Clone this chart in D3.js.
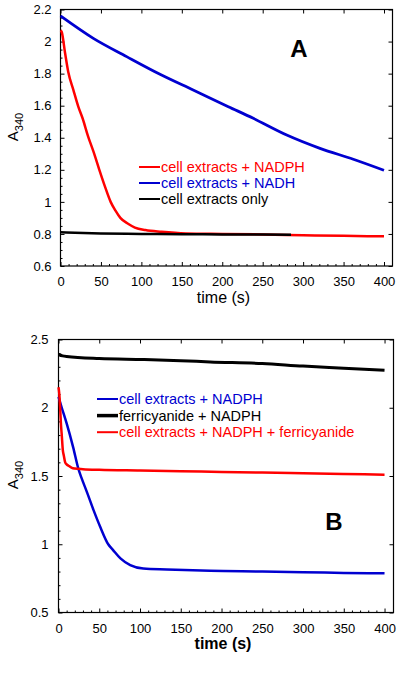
<!DOCTYPE html>
<html>
<head>
<meta charset="utf-8">
<script src="https://cdn.jsdelivr.net/npm/d3@7"></script>
<style>
  body { margin: 0; background: #fff; }
  svg text { font-family: "Liberation Sans", Arial, sans-serif; }
</style>
</head>
<body>
<div id="chart"></div>
<script>
// panel A: absorbance at 340 nm vs time
var timeA_nadph = [0, 1.5, 5.6, 9.6, 15.8, 22, 27.4, 34, 41, 48, 55, 62, 68, 74, 84, 92, 105, 125, 155, 200, 250, 300, 350, 400];
var absA_nadph  = [2.07, 2.06, 1.93, 1.81, 1.70, 1.594, 1.52, 1.41, 1.31, 1.20, 1.095, 1.0, 0.945, 0.90, 0.862, 0.84, 0.824, 0.813, 0.803, 0.80, 0.797, 0.792, 0.788, 0.785];
var timeA_nadh = [0, 40.6, 81.8, 123, 164, 207.5, 238.4, 279.7, 320.8, 362, 400];
var absA_nadh  = [2.16, 2.02, 1.906, 1.796, 1.698, 1.594, 1.521, 1.417, 1.334, 1.266, 1.197];
var timeA_only = [0, 50, 100, 150, 200, 250, 285];
var absA_only  = [0.81, 0.803, 0.80, 0.798, 0.797, 0.796, 0.795];

// panel B
var timeB_nadph = [0, 4, 10, 18, 24.5, 28, 35, 43, 51, 61, 67, 76, 88, 104, 133, 186, 250, 300, 350, 400];
var absB_nadph  = [2.08, 2.0, 1.885, 1.71, 1.55, 1.49, 1.38, 1.25, 1.13, 1.0, 0.957, 0.896, 0.847, 0.822, 0.815, 0.805, 0.80, 0.795, 0.79, 0.787];
var timeB_ferri = [0, 5, 10, 50, 104, 150, 186, 250, 300, 350, 400];
var absB_ferri  = [2.39, 2.38, 2.375, 2.36, 2.353, 2.345, 2.336, 2.324, 2.305, 2.29, 2.275];
var timeB_both = [0, 1, 2, 3, 4, 5.3, 6.5, 8.2, 10, 12.3, 16.4, 20, 30, 50, 100, 150, 200, 250, 300, 350, 400];
var absB_both  = [2.15, 2.1, 2.0, 1.88, 1.80, 1.69, 1.65, 1.60, 1.585, 1.575, 1.56, 1.555, 1.55, 1.545, 1.54, 1.535, 1.53, 1.525, 1.52, 1.515, 1.51];

var xTicks = [0, 50, 100, 150, 200, 250, 300, 350, 400];
var yTicksA = [0.6, 0.8, 1, 1.2, 1.4, 1.6, 1.8, 2, 2.2];
var yTicksB = [0.5, 1, 1.5, 2, 2.5];

var legendA = ["cell extracts + NADPH", "cell extracts + NADH", "cell extracts only"];
var legendB = ["cell extracts + NADPH", "ferricyanide + NADPH", "cell extracts + NADPH + ferricyanide"];

var RED = "#ff0000", BLUE = "#0000d0", BLACK = "#000000";

function zip(t, v) {
	return t.map((d, i) => ({ t: d, v: v[i] }));
}

var svg = d3.select("#chart").append("svg")
	.attr("width", 417).attr("height", 677);

function drawPanel(cfg) {
	const x = d3.scaleLinear().domain(cfg.xDomain).range([cfg.left, cfg.right]);
	const y = d3.scaleLinear().domain(cfg.yDomain).range([cfg.bottom, cfg.top]);
	const g = svg.append("g");

	// minor ticks
	const xMinor = d3.range(0, 401, 10).filter(v => v % 50 !== 0);
	const yMinor = d3.range(cfg.yDomain[0], cfg.yDomain[1] + 1e-9, cfg.yMinorStep)
		.filter(v => !cfg.yTicks.some(t => Math.abs(t - v) < 1e-6));

	g.append("g").attr("transform", `translate(0,${cfg.bottom})`)
		.call(d3.axisBottom(x).tickValues(xMinor).tickFormat("").tickSize(-2).tickSizeOuter(0));
	g.append("g").attr("transform", `translate(${cfg.left},0)`)
		.call(d3.axisLeft(y).tickValues(yMinor).tickFormat("").tickSize(-2).tickSizeOuter(0));

	// major ticks + labels
	g.append("g").attr("class", "ax").attr("transform", `translate(0,${cfg.bottom})`)
		.call(d3.axisBottom(x).tickValues(xTicks).tickSize(-4).tickSizeOuter(0).tickPadding(8))
		.selectAll("text").attr("dy", cfg.xdy);
	g.append("g").attr("class", "ax").attr("transform", `translate(${cfg.left},0)`)
		.call(d3.axisLeft(y).tickValues(cfg.yTicks).tickFormat(d3.format("")).tickSize(-4).tickSizeOuter(0).tickPadding(cfg.ypad));
	g.append("g").attr("transform", `translate(0,${cfg.top})`)
		.call(d3.axisTop(x).tickValues(xTicks).tickFormat("").tickSize(-4).tickSizeOuter(0));
	g.append("g").attr("transform", `translate(${cfg.right},0)`)
		.call(d3.axisRight(y).tickValues(cfg.yTicks).tickFormat("").tickSize(-4).tickSizeOuter(0));

	g.selectAll(".domain").remove();
	g.selectAll(".tick line").attr("stroke", "#000").attr("stroke-width", 1);
	g.selectAll(".ax text").attr("font-size", 13).attr("fill", "#000")
		.style("font-family", '"Liberation Sans", Arial, sans-serif');

	// frame
	g.append("rect")
		.attr("x", cfg.left).attr("y", cfg.top)
		.attr("width", cfg.right - cfg.left).attr("height", cfg.bottom - cfg.top)
		.attr("fill", "none").attr("stroke", "#000").attr("stroke-width", 1.2);

	// data lines
	const line = d3.line().x(d => x(d.t)).y(d => y(d.v)).curve(d3.curveMonotoneX);
	cfg.series.forEach(s => {
		g.append("path")
			.datum(zip(s.t, s.v))
			.attr("fill", "none")
			.attr("stroke", s.color)
			.attr("stroke-width", s.width)
			.attr("d", line);
	});

	// legend
	cfg.series.forEach((s, i) => {
		const ly = cfg.legY + i * cfg.legStep;
		g.append("line")
			.attr("x1", cfg.legX).attr("x2", cfg.legX + 21)
			.attr("y1", ly - 5).attr("y2", ly - 5)
			.attr("stroke", s.color).attr("stroke-width", s.legWidth);
		g.append("text")
			.attr("x", cfg.legX + 22).attr("y", ly)
			.attr("font-size", 14.5).attr("fill", s.color)
			.text(s.label);
	});

	// axis titles
	g.append("text")
		.attr("x", (cfg.left + cfg.right) / 2 - 3).attr("y", cfg.xLabelY)
		.attr("text-anchor", "middle").attr("font-size", 16)
		.attr("font-weight", cfg.boldX ? "bold" : "normal")
		.text("time (s)");

	const yl = g.append("text")
		.attr("transform", `translate(18,${cfg.yLabelY}) rotate(-90)`)
		.attr("text-anchor", "middle").attr("font-size", 15);
	yl.append("tspan").text("A");
	yl.append("tspan").attr("font-size", 11).attr("dy", 5).text("340");

	// panel letter
	g.append("text")
		.attr("x", cfg.tagX).attr("y", cfg.tagY)
		.attr("text-anchor", "middle").attr("font-size", 24).attr("font-weight", "bold")
		.text(cfg.tag);
}

drawPanel({
	left: 60.5, right: 392.5, top: 9.5, bottom: 266,
	xDomain: [0, 410.5], yDomain: [0.6, 2.2],
	yTicks: yTicksA, yMinorStep: 0.05, ypad: 9, xdy: "0.9em",
	series: [
		{ t: timeA_nadph, v: absA_nadph, color: RED, width: 2.5, legWidth: 2, label: legendA[0] },
		{ t: timeA_nadh, v: absA_nadh, color: BLUE, width: 2.8, legWidth: 2, label: legendA[1] },
		{ t: timeA_only, v: absA_only, color: BLACK, width: 2.5, legWidth: 2, label: legendA[2] }
	],
	legX: 139, legY: 172, legStep: 16,
	xLabelY: 303, yLabelY: 127, boldX: false,
	tag: "A", tagX: 299, tagY: 57
});

drawPanel({
	left: 58.5, right: 393.5, top: 339.5, bottom: 612.5,
	xDomain: [0, 411], yDomain: [0.5, 2.5],
	yTicks: yTicksB, yMinorStep: 0.1, ypad: 10, xdy: "0.95em",
	series: [
		{ t: timeB_nadph, v: absB_nadph, color: BLUE, width: 2.5, legWidth: 2, label: legendB[0] },
		{ t: timeB_ferri, v: absB_ferri, color: BLACK, width: 3, legWidth: 3.5, label: legendB[1] },
		{ t: timeB_both, v: absB_both, color: RED, width: 2.5, legWidth: 2, label: legendB[2] }
	],
	legX: 97, legY: 404, legStep: 16.6,
	xLabelY: 649, yLabelY: 475, boldX: true,
	tag: "B", tagX: 334, tagY: 530
});
</script>
</body>
</html>
